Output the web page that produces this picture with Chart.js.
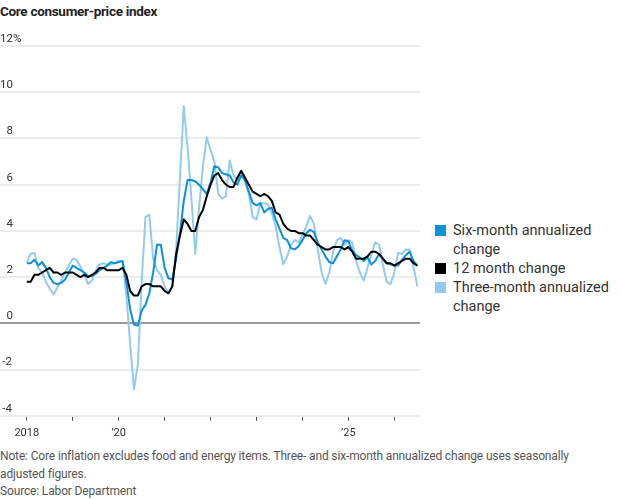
<!DOCTYPE html>
<html>
<head>
<meta charset="utf-8">
<script src="https://cdn.jsdelivr.net/npm/chart.js@4.4.1/dist/chart.umd.min.js"></script>
<style>
  body { margin: 0; width: 620px; height: 500px; background: #fff; font-family: Roboto, "Noto Sans", sans-serif; color: #333; position: relative; overflow: hidden; }
  #title { position: absolute; left: 0; top: 3px; font-size: 13.5px; font-weight: 700; color: #222; letter-spacing: -0.3px; }
  #wrap { position: absolute; left: 0; top: 28px; width: 422px; height: 418px; }
  #legend { position: absolute; left: 435px; top: 221px; width: 185px; font-size: 14.5px; color: #333; }
  .item { position: relative; padding-left: 18px; line-height: 19px; }
  .sw { position: absolute; left: 0; top: 4px; width: 11px; height: 11px; }
  #notes { position: absolute; left: 0; top: 448px; width: 616px; font-size: 12px; line-height: 17.5px; color: #555; letter-spacing: -0.15px; }
</style>
</head>
<body>
<div id="title">Core consumer-price index</div>
<div id="wrap"><canvas id="lineChart"></canvas></div>
<div id="legend"></div>
<div id="notes">Note: Core inflation excludes food and energy items. Three- and six-month annualized change uses seasonally adjusted figures.<br>Source: Labor Department</div>
<script>
// monthly readings, Jan 2018 onward
const startYear = 2018;

const twelveMonth = [
  1.8, 1.8, 2.1, 2.1, 2.2, 2.3, 2.4, 2.2, 2.2, 2.1, 2.2, 2.2,
  2.2, 2.1, 2.0, 2.1, 2.0, 2.1, 2.2, 2.4, 2.4, 2.3, 2.3, 2.3,
  2.3, 2.4, 2.1, 1.4, 1.2, 1.2, 1.6, 1.7, 1.7, 1.6, 1.6, 1.6,
  1.4, 1.3, 1.6, 3.0, 3.8, 4.5, 4.3, 4.0, 4.0, 4.6, 4.9, 5.5,
  6.0, 6.4, 6.5, 6.2, 6.0, 5.9, 5.9, 6.3, 6.6, 6.3, 6.0, 5.7,
  5.6, 5.5, 5.6, 5.5, 5.3, 4.8, 4.7, 4.3, 4.1, 4.0, 4.0, 3.9,
  3.9, 3.8, 3.8, 3.6, 3.4, 3.3, 3.2, 3.2, 3.3, 3.3, 3.3, 3.2,
  3.3, 3.1, 2.8, 2.8, 2.8, 2.9, 3.1, 3.1, 3.0, 2.8, 2.6, 2.6,
  2.5, 2.6, 2.7, 2.8, 2.8, 2.6, 2.5
];

const sixMonth = [
  2.6, 2.6, 2.75, 2.5, 2.65, 2.4, 2.0, 1.75, 1.7, 1.75, 1.9, 2.2,
  2.5, 2.4, 2.3, 2.2, 2.05, 2.05, 2.15, 2.3, 2.4, 2.5, 2.65, 2.6,
  2.65, 2.7, 1.8, 0.6, -0.05, -0.1, 0.55, 0.8, 1.3, 2.2, 3.4, 3.4,
  2.4, 1.95, 1.9, 2.8, 3.9, 5.3, 6.2, 6.2, 6.15, 6.0, 5.8, 5.6,
  6.1, 6.8, 6.75, 6.5, 6.45, 6.4, 6.1, 6.0, 6.4, 6.2, 5.7, 5.2,
  5.1, 5.2, 4.8, 4.95, 5.0, 4.5, 4.1, 3.7, 3.6, 3.25, 3.2, 3.35,
  3.6, 3.9, 4.05, 3.95, 3.5, 3.2, 2.9, 2.65, 2.6, 2.9, 3.2, 3.6,
  3.55, 3.15, 2.95, 2.85, 2.7, 2.85, 2.55, 2.7, 3.0, 2.8, 2.6, 2.55,
  2.5, 2.5, 2.75, 2.95, 3.1, 2.7, 2.5
];

const threeMonth = [
  2.65, 3.0, 3.05, 2.4, 2.2, 1.8, 1.5, 1.25, 1.55, 1.85, 2.2, 2.5,
  2.8, 2.75, 2.45, 2.1, 1.7, 1.85, 2.3, 2.55, 2.6, 2.55, 2.55, 2.6,
  2.7, 2.7, 1.2, -0.9, -2.85, -1.8, 1.8, 4.6, 4.7, 2.8, 2.3, 2.1,
  1.6, 1.3, 1.6, 3.2, 6.3, 9.4, 7.6, 5.4, 3.0, 5.0, 6.8, 8.05,
  7.5, 7.0, 5.6, 5.4, 5.5, 7.05, 6.4, 6.2, 6.5, 6.1, 5.6, 4.6,
  4.5, 5.2, 5.2, 5.15, 4.75, 4.2, 3.3, 2.55, 2.9, 3.4, 3.6, 3.5,
  3.8, 4.2, 4.65, 4.3, 3.2, 2.2, 1.7, 2.2, 3.1, 3.6, 3.7, 3.4,
  3.6, 3.5, 2.7, 2.2, 1.85, 2.4, 3.0, 3.5, 3.4, 2.55, 1.8, 1.7,
  2.2, 3.05, 3.0, 3.2, 3.2, 2.45, 1.6
];

const seriesNames = ["Six-month annualized change", "12 month change", "Three-month annualized change"];
const seriesColors = ["#0b90d9", "#000000", "#93cbee"];

// January positions (month index) and their labels
const xTickIdx = [0, 12, 24, 36, 48, 60, 72, 84, 96];
const xTickText = ["2018", "", "\u201920", "", "", "", "", "\u201925", ""];
const yTicks = [-4, -2, 0, 2, 4, 6, 8, 10, 12];

const months = twelveMonth.map((v, i) => `${startYear + Math.floor(i / 12)}-${String((i % 12) + 1).padStart(2, "0")}`);
const toPts = (arr) => arr.map((v, i) => ({ x: i, y: v }));

// html legend (the chart's own legend can't wrap text)
const legendEl = document.getElementById("legend");
seriesNames.forEach((name, i) => {
  const d = document.createElement("div");
  d.className = "item";
  d.innerHTML = `<span class="sw" style="background:${seriesColors[i]}"></span>${name}`;
  legendEl.appendChild(d);
});

const ctx1 = document.getElementById("lineChart").getContext("2d");
new Chart(ctx1, {
  type: "line",
  data: {
    labels: months,
    datasets: [
      { label: seriesNames[0], data: toPts(sixMonth), borderColor: seriesColors[0], order: 1 },
      { label: seriesNames[1], data: toPts(twelveMonth), borderColor: seriesColors[1], order: 0 },
      { label: seriesNames[2], data: toPts(threeMonth), borderColor: seriesColors[2], order: 2 },
    ],
  },
  options: {
    responsive: true,
    maintainAspectRatio: false,
    animation: false,
    devicePixelRatio: 1,
    layout: { padding: { top: 18, right: 2, left: 0, bottom: 0 } },
    plugins: { legend: { display: false }, tooltip: { enabled: false } },
    elements: {
      point: { radius: 0 },
      line: { tension: 0, borderWidth: 2, borderJoinStyle: "round", fill: false },
    },
    scales: {
      x: {
        type: "linear",
        min: -7,
        max: 102.7,
        afterBuildTicks: (s) => { s.ticks = xTickIdx.map((v) => ({ value: v })); },
        grid: { drawOnChartArea: false, drawTicks: true, tickLength: 5, tickColor: "#555", tickWidth: 1 },
        border: { display: false },
        ticks: {
          autoSkip: false,
          maxRotation: 0,
          padding: 6,
          color: "#333",
          font: { family: "Roboto", size: 11 },
          callback: (v) => xTickText[xTickIdx.indexOf(v)] || "",
        },
      },
      y: {
        min: -4,
        max: 12,
        afterBuildTicks: (s) => { s.ticks = yTicks.map((v) => ({ value: v })); },
        grid: {
          drawTicks: false,
          color: (c) => (c.tick.value === 0 ? "#999999" : "#ececec"),
          lineWidth: 2,
        },
        border: { display: false },
        ticks: {
          mirror: true,
          padding: 0,
          labelOffset: -7,
          crossAlign: "near",
          color: "#333",
          font: { family: "Roboto", size: 11.5 },
          callback: (v) => {
            if (v === 12) return "12%";
            if (v >= 0 && v < 10) return "\u2007" + v;
            if (v < 0) return "\u2009" + v;
            return String(v);
          },
        },
      },
    },
  },
});
</script>
</body>
</html>
